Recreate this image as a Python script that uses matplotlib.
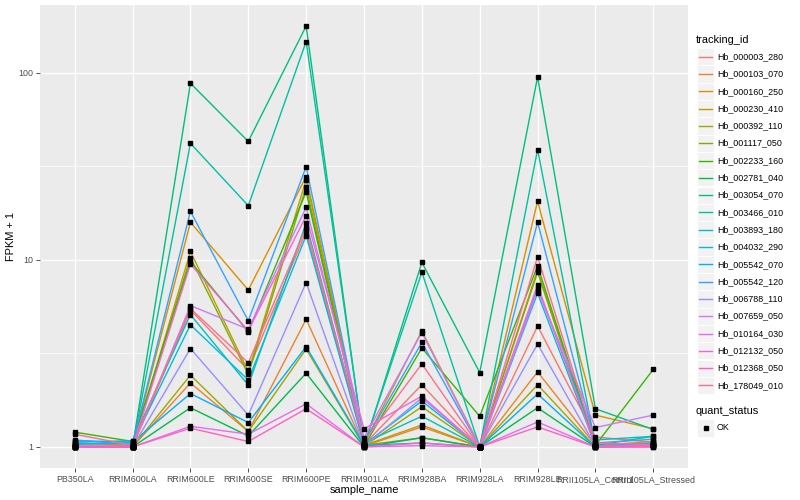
import numpy as np
import matplotlib
matplotlib.use("Agg")
import matplotlib.pyplot as plt
from matplotlib.patches import Rectangle
from matplotlib.lines import Line2D

plt.rcParams['font.family'] = ['Liberation Sans', 'DejaVu Sans']

samples = ["PB350LA", "RRIM600LA", "RRIM600LE", "RRIM600SE", "RRIM600PE",
           "RRIM901LA", "RRIM928BA", "RRIM928LA", "RRIM928LE",
           "RRII105LA_Control", "RRII105LA_Stressed"]

tracking_ids = ["Hb_000003_280", "Hb_000103_070", "Hb_000160_250", "Hb_000230_410",
                "Hb_000392_110", "Hb_001117_050", "Hb_002233_160", "Hb_002781_040",
                "Hb_003054_070", "Hb_003466_010", "Hb_003893_180", "Hb_004032_290",
                "Hb_005542_070", "Hb_005542_120", "Hb_006788_110", "Hb_007659_050",
                "Hb_010164_030", "Hb_012132_050", "Hb_012368_050", "Hb_178049_010"]

colors = ["#F8766D", "#EA8331", "#D89000", "#C09B00", "#A3A500", "#7CAE00", "#39B600",
          "#00BB4E", "#00BF7D", "#00C1A3", "#00BFC4", "#00BAE0", "#00B0F6", "#35A2FF",
          "#9590FF", "#C77CFF", "#E76BF3", "#FA62DB", "#FF62BC", "#FF6C91"]

# FPKM + 1 per sample, in tracking_id order
PB350LA = [1.02, 1.00, 1.05, 1.01, 1.00, 1.03, 1.20, 1.00, 1.00, 1.01,
           1.06, 1.04, 1.08, 1.09, 1.00, 1.02, 1.00, 1.00, 1.00, 1.17]
RRIM600LA = [1.00, 1.00, 1.02, 1.00, 1.00, 1.01, 1.07, 1.00, 1.00, 1.00,
             1.08, 1.05, 1.06, 1.03, 1.00, 1.01, 1.00, 1.00, 1.00, 1.02]
RRIM600LE = [5.4, 2.2, 15.9, 11.1, 2.42, 10.3, 9.8, 1.62, 88.0, 42.0,
             5.1, 4.5, 1.93, 18.2, 3.36, 5.7, 1.29, 9.5, 1.26, 5.5]
RRIM600SE = [2.58, 1.21, 6.9, 2.53, 1.21, 2.44, 4.12, 1.145, 43.0, 19.5,
             2.14, 2.28, 1.35, 4.73, 1.48, 4.26, 1.17, 4.18, 1.07, 2.82]
RRIM600PE = [14.2, 4.82, 27.9, 26.9, 3.34, 24.6, 23.1, 2.48, 178.0, 147.0,
             15.7, 13.5, 3.44, 31.5, 7.57, 19.1, 1.70, 17.2, 1.60, 14.9]
RRIM901LA = [1.03, 1.01, 1.04, 1.02, 1.01, 1.02, 1.01, 1.00, 1.00, 1.02,
             1.05, 1.03, 1.02, 1.05, 1.01, 1.12, 1.00, 1.25, 1.00, 1.07]
RRIM928BA = [2.15, 1.28, 4.17, 1.31, 1.64, 1.12, 3.38, 1.12, 9.7, 8.6,
             1.46, 1.76, 1.05, 3.62, 1.83, 4.09, 1.016, 1.87, 1.05, 2.78]
RRIM928LA = [1.00, 1.00, 1.01, 1.00, 1.00, 1.00, 1.46, 1.00, 2.5, 1.00,
             1.00, 1.00, 1.00, 1.00, 1.00, 1.00, 1.00, 1.00, 1.00, 1.00]
RRIM928LE = [4.43, 2.52, 20.6, 8.85, 2.15, 8.6, 9.3, 1.62, 95.0, 38.9,
             7.06, 6.64, 1.92, 15.9, 3.55, 6.85, 1.36, 7.33, 1.28, 10.4]
RRII105LA_Control = [1.13, 1.02, 1.48, 1.01, 1.00, 1.01, 1.02, 1.00, 1.60, 1.02,
                     1.09, 1.01, 1.00, 1.05, 1.01, 1.27, 1.00, 1.01, 1.00, 1.05]
RRII105LA_Stressed = [1.06, 1.07, 1.25, 1.04, 1.02, 1.03, 2.60, 1.01, 1.24, 1.14,
                      1.14, 1.05, 1.02, 1.10, 1.02, 1.48, 1.00, 1.01, 1.00, 1.03]

columns = [PB350LA, RRIM600LA, RRIM600LE, RRIM600SE, RRIM600PE, RRIM901LA,
           RRIM928BA, RRIM928LA, RRIM928LE, RRII105LA_Control, RRII105LA_Stressed]
values = np.array(columns).T  # shape (20 series, 11 samples)

fig = plt.figure(figsize=(8, 5), dpi=100)
W, H = 800, 500
px = lambda x, y: (x / W, 1 - y / H)

left, right, top, bottom = 40, 688, 5, 468
ax = fig.add_axes([left / W, 1 - bottom / H, (right - left) / W, (bottom - top) / H])
ax.set_facecolor("#EBEBEB")
for s in ax.spines.values():
    s.set_visible(False)

x = np.arange(len(samples))
for i in range(values.shape[0]):
    ax.plot(x, values[i], color=colors[i], lw=1.0, zorder=3)
for i in range(values.shape[0]):
    ax.plot(x, values[i], ls='none', marker='s', ms=2.5, color='black', zorder=4)

ax.set_yscale('log')
lo, hi = np.log10(values.min()), np.log10(values.max())
ex = 0.05 * (hi - lo)
ax.set_ylim(10 ** (lo - ex), 10 ** (hi + ex))
ax.set_xlim(-0.6, len(samples) - 1 + 0.6)

ax.set_yticks([1, 10, 100])
ax.set_yticklabels(["1", "10", "100"])
ax.set_yticks([10 ** 0.5, 10 ** 1.5], minor=True)
ax.yaxis.set_minor_formatter(matplotlib.ticker.NullFormatter())
ax.set_xticks(x)
ax.set_xticklabels(samples)
ax.tick_params(axis='both', which='major', length=3, width=0.6, color="#333333",
               labelsize=6.4, labelcolor="#4D4D4D", pad=2)
ax.tick_params(axis='y', which='minor', length=0)
ax.grid(True, which='major', color='white', lw=1.0, zorder=0)
ax.grid(True, which='minor', axis='y', color='white', lw=0.5, zorder=0)
ax.set_axisbelow(True)

ax.set_xlabel("sample_name", fontsize=7.9, labelpad=0.5)
ax.set_ylabel("FPKM + 1", fontsize=7.9, labelpad=1.5)

# legend: tracking_id
fig.text(*px(696, 40), "tracking_id", fontsize=7.9, va='center', ha='left')
for i, (name, c) in enumerate(zip(tracking_ids, colors)):
    yc = 56.7 + i * 17.3
    x0, y0 = px(697, yc + 8.6)
    fig.add_artist(Rectangle((x0, y0), 17 / W, 17.2 / H, transform=fig.transFigure,
                             facecolor="#F2F2F2", edgecolor="white", lw=0.6))
    xa, ya = px(699, yc)
    xb, _ = px(712, yc)
    fig.add_artist(Line2D([xa, xb], [ya, ya], transform=fig.transFigure, color=c, lw=1.0))
    fig.text(*px(717, yc), name, fontsize=6.4, va='center', ha='left')

fig.text(*px(696, 411.5), "quant_status", fontsize=7.9, va='center', ha='left')
yc = 428
x0, y0 = px(697, yc + 8.6)
fig.add_artist(Rectangle((x0, y0), 17 / W, 17.2 / H, transform=fig.transFigure,
                         facecolor="#F2F2F2", edgecolor="white", lw=0.6))
fig.add_artist(Line2D([px(705.5, yc)[0]], [px(705.5, yc)[1]], transform=fig.transFigure,
                      ls='none', marker='s', ms=2.5, color='black'))
fig.text(*px(717, yc), "OK", fontsize=6.4, va='center', ha='left')

fig.savefig("out.png", dpi=100, facecolor='white')
